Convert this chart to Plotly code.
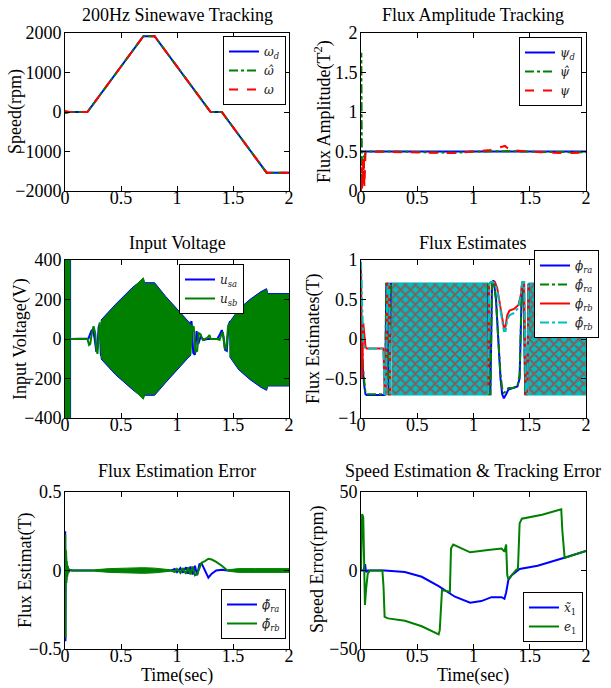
import plotly.graph_objects as go

# ---------------- data ----------------
# Panel 1: speed tracking (rpm)
t_spd = [0, 0.005, 0.01, 0.02, 0.04, 0.2, 0.7, 0.8, 1.3, 1.4, 1.8, 2.0]
w_d = [0, 0, 0, 0, 0, 0, 1920, 1920, 0, 0, -1536, -1536]
w_hat = [0, -40, 30, -20, 0, 0, 1920, 1920, 0, 0, -1536, -1536]
w_act = [40, 20, -10, 10, 0, 0, 1920, 1920, 0, 0, -1536, -1536]

# Panel 2: flux amplitude
t_psi_d = [0, 2.0]
psi_d = [0.5, 0.5]
t_psi_hat = [0, 0.003, 0.006, 0.01, 0.015, 0.02, 0.025, 0.03, 0.04, 0.05, 0.3, 0.6, 0.85, 1.0, 1.3, 1.6, 2.0]
psi_hat = [0.1, 1.75, 0.8, 0.05, 0.3, 0.15, 0.45, 0.4, 0.5, 0.5, 0.5, 0.49, 0.485, 0.5, 0.505, 0.495, 0.49]
t_psi = [0, 0.005, 0.01, 0.015, 0.02, 0.025, 0.03, 0.035, 0.04, 0.05, 0.3, 0.6, 0.85, 1.0, 1.15, 1.28, 1.32, 1.4, 1.6, 1.8, 2.0]
psi = [0.0, 0.3, 0.0, 0.4, 0.15, 0.45, 0.05, 0.2, 0.48, 0.5, 0.49, 0.485, 0.48, 0.5, 0.52, 0.57, 0.52, 0.51, 0.49, 0.48, 0.485]

# Panel 3: input voltage (V)
t_v_start_a = [0.0, 0.05]
v_start_hi_a = [450, 450]
v_start_lo_a = [-450, -450]
t_v_start_b = [0.0, 0.045]
v_start_hi_b = [450, 450]
v_start_lo_b = [-450, -450]

t_usa_1 = [0.05, 0.2, 0.21, 0.235, 0.25, 0.265, 0.28, 0.29, 0.3, 0.31, 0.32, 0.33]
usa_1 = [0, 0, 3, 40, 50, 0, -65, -45, 60, 75, -80, -90]
t_usb_1 = [0.05, 0.2, 0.215, 0.225, 0.24, 0.255, 0.27, 0.28, 0.29, 0.3, 0.31, 0.32, 0.33]
usb_1 = [0, 0, -30, -25, 30, 65, 30, -50, -75, 10, 85, 0, -95]

t_vband_1 = [0.32, 0.45, 0.6, 0.7, 0.71, 0.8, 0.9, 1.0, 1.1, 1.12]
usa_b1_hi = [95, 175, 260, 305, 285, 285, 215, 150, 90, 80]
usa_b1_lo = [-100, -180, -255, -300, -285, -285, -220, -155, -95, -85]
usb_b1_hi = [90, 170, 255, 310, 280, 280, 210, 145, 85, 75]
usb_b1_lo = [-95, -175, -250, -305, -280, -280, -215, -150, -90, -80]

t_usa_2 = [1.12, 1.13, 1.145, 1.16, 1.175, 1.19, 1.21, 1.24, 1.27, 1.3, 1.36, 1.38, 1.4, 1.415, 1.43, 1.445, 1.46, 1.475]
usa_2 = [80, 90, -70, -80, 40, -25, 10, -5, 0, 0, 0, 20, 45, 10, -55, -60, 70, 90]
t_usb_2 = [1.12, 1.135, 1.15, 1.165, 1.18, 1.195, 1.21, 1.23, 1.25, 1.27, 1.29, 1.3, 1.36, 1.38, 1.395, 1.41, 1.425, 1.44, 1.455, 1.47, 1.48]
usb_2 = [-80, 65, 60, -65, -60, 30, 25, -5, 0, 5, 20, 0, 0, -5, 20, 35, -45, -50, 60, 80, -80]

t_vband_2 = [1.47, 1.55, 1.65, 1.75, 1.8, 1.81, 2.0]
usa_b2_hi = [85, 150, 200, 240, 255, 230, 230]
usa_b2_lo = [-90, -155, -205, -245, -260, -238, -238]
usb_b2_hi = [80, 145, 195, 235, 250, 226, 226]
usb_b2_lo = [-85, -150, -200, -240, -255, -234, -234]

# Panel 4: flux estimates (T)
t_fa_1 = [0, 0.01, 0.02, 0.03, 0.04, 0.05, 0.21, 0.215, 0.225, 0.235, 0.245, 0.255, 0.265, 0.275]
phi_ra_1 = [0.0, -0.3, -0.45, -0.6, -0.7, -0.71, -0.71, -0.6, 0.7, 0.7, -0.7, -0.7, 0.7, 0.7]
phi_ra_hat_1 = [0.2, -0.2, -0.4, -0.55, -0.68, -0.7, -0.7, -0.6, 0.7, 0.7, -0.7, -0.7, 0.7, 0.7]
t_fb_1 = [0, 0.01, 0.02, 0.03, 0.04, 0.05, 0.2, 0.21, 0.22, 0.235, 0.25, 0.26, 0.27]
phi_rb_1 = [0.9, -0.5, 0.2, 0.0, -0.1, -0.12, -0.12, -0.7, -0.7, 0.7, 0.7, -0.7, -0.7]
phi_rb_hat_1 = [0.98, 0.3, -0.05, -0.1, -0.12, -0.12, -0.12, -0.7, -0.7, 0.7, 0.7, -0.7, -0.7]

t_fband_1 = [0.27, 1.13]
t_fband_2 = [1.49, 2.0]
f_band_hi = [0.71, 0.71]
f_band_lo = [-0.71, -0.71]

t_fa_2 = [1.13, 1.14, 1.15, 1.165, 1.18, 1.2, 1.22, 1.24, 1.255, 1.27, 1.29, 1.31, 1.35, 1.39, 1.41, 1.43, 1.445, 1.46, 1.475, 1.49]
phi_ra_2 = [0.7, -0.7, -0.7, 0.72, 0.74, 0.5, 0.0, -0.5, -0.7, -0.75, -0.7, -0.64, -0.62, -0.6, -0.5, 0.68, 0.7, -0.7, -0.7, 0.7]
phi_ra_hat_2 = [0.7, -0.7, -0.7, 0.72, 0.72, 0.5, 0.0, -0.45, -0.62, -0.68, -0.66, -0.62, -0.62, -0.6, -0.45, 0.68, 0.7, -0.7, -0.7, 0.7]
t_fb_2 = [1.13, 1.14, 1.155, 1.17, 1.19, 1.21, 1.23, 1.25, 1.27, 1.285, 1.3, 1.32, 1.36, 1.4, 1.42, 1.435, 1.45, 1.465, 1.48, 1.49]
phi_rb_2 = [-0.7, 0.7, 0.72, 0.72, 0.72, 0.65, 0.48, 0.28, 0.14, 0.16, 0.3, 0.36, 0.38, 0.43, 0.55, 0.72, 0.72, -0.7, -0.7, 0.7]
phi_rb_hat_2 = [-0.7, 0.7, 0.72, 0.72, 0.7, 0.62, 0.45, 0.25, 0.1, 0.1, 0.25, 0.3, 0.33, 0.4, 0.55, 0.72, 0.72, -0.7, -0.7, 0.7]

# Panel 5: flux estimation error (T)
t_e_start = [0, 0.002, 0.004, 0.006, 0.008, 0.01, 0.013, 0.016, 0.02, 0.025, 0.03, 0.04, 0.06, 0.25]
ea_start = [0, 0.25, -0.45, 0.1, -0.15, 0.08, -0.06, 0.04, -0.03, 0.02, -0.01, 0.005, 0, 0]
eb_start = [0, 0.23, -0.43, 0.13, -0.2, 0.12, -0.08, 0.06, -0.04, 0.03, -0.015, 0.005, 0, 0]
t_e_mid = [0.95, 0.98, 1.0, 1.03, 1.05, 1.08, 1.1, 1.12, 1.14, 1.16, 1.18, 1.2, 1.22, 1.25, 1.28, 1.31, 1.35, 1.4, 1.45]
ea_mid = [0, 0.01, -0.01, 0.015, -0.015, 0.02, -0.02, 0.025, -0.025, 0.03, -0.03, 0.04, 0.045, 0.0, -0.045, -0.02, 0.0, 0.005, 0]
eb_mid = [0, -0.01, 0.01, -0.015, 0.015, -0.02, 0.02, -0.025, 0.025, -0.03, -0.022, 0.02, 0.05, 0.06, 0.075, 0.07, 0.055, 0.03, 0.0]
t_eband_1 = [0.25, 0.4, 0.55, 0.7, 0.8, 0.9, 0.95]
e_b1_hi = [0.004, 0.012, 0.015, 0.018, 0.015, 0.008, 0.004]
e_b1_lo = [-0.004, -0.012, -0.015, -0.018, -0.015, -0.008, -0.004]
t_eband_2 = [1.45, 1.55, 1.7, 1.85, 2.0]
e_b2_hi = [0.004, 0.012, 0.012, 0.012, 0.012]
e_b2_lo = [-0.004, -0.012, -0.012, -0.012, -0.012]

# Panel 6: speed estimation & tracking error (rpm)
t_x1 = [0, 0.02, 0.03, 0.036, 0.045, 0.06, 0.21, 0.3, 0.39, 0.54, 0.69, 0.835, 0.97, 1.07, 1.16, 1.25,
        1.275, 1.29, 1.31, 1.34, 1.39, 1.41, 1.57, 1.72, 1.8, 2.0]
x1 = [0, 0, 2, 4, -1, 0, 0, -0.3, -1, -4, -10, -16.7, -20.5, -19.5, -17, -17,
      -18, -14, -6, -3, 0, 1, 3, 6, 8, 12.5]
t_e1 = [0, 0.01, 0.02, 0.03, 0.035, 0.045, 0.06, 0.08, 0.19, 0.2, 0.21, 0.24, 0.39, 0.54, 0.69, 0.7,
        0.715, 0.72, 0.79, 0.8, 0.82, 0.97, 1.13, 1.25, 1.275, 1.29, 1.3, 1.31, 1.34, 1.38, 1.395, 1.41,
        1.43, 1.61, 1.78, 1.79, 1.81, 2.0]
e1 = [0, 36, 34, -12, -22, -12, -2, 0, 0, -10, -29.5, -30.5, -32, -35.5, -40.7, -38,
      -14, -12.5, -13.5, 14, 16.5, 11.6, 13, 14, 12, 16.5, -3, -5.5, -3, 0.5, 1, 30,
      33, 35.5, 39, 25, 8, 12.5]

x_ticks = [0, 0.5, 1, 1.5, 2]

# ---------------- styling ----------------
BLUE = "#0000FF"
GREEN = "#008000"
RED = "#FF0000"
CYAN = "#00BFBF"
FONT = "Liberation Serif"
LFONT = "DejaVu Serif"
W, H = 611, 688

fig = go.Figure()


def px_x(p):
    return p / W


def px_y(p):
    return 1 - p / H


col_dom = [[px_x(65), px_x(289)], [px_x(361), px_x(586)]]
row_dom = [[px_y(191), px_y(33)], [px_y(418), px_y(260)], [px_y(649), px_y(492)]]


def line(x, y, ax, color, name=None, dash="solid", legend=None, show=True, width=2):
    fig.add_trace(go.Scatter(
        x=x, y=y, mode="lines", name=name,
        line=dict(color=color, width=width, dash=dash),
        xaxis="x" + ("" if ax == 1 else str(ax)),
        yaxis="y" + ("" if ax == 1 else str(ax)),
        legend=legend, showlegend=show and name is not None,
    ))


def band(t, hi, lo, ax, color, pattern=None):
    xs = list(t) + list(t)[::-1]
    ys = list(hi) + list(lo)[::-1]
    kw = dict(fillcolor=color)
    if pattern:
        kw["fillpattern"] = pattern
    fig.add_trace(go.Scatter(
        x=xs, y=ys, mode="lines", fill="toself",
        line=dict(color=color, width=1),
        xaxis="x" + ("" if ax == 1 else str(ax)),
        yaxis="y" + ("" if ax == 1 else str(ax)),
        showlegend=False, hoverinfo="skip", **kw,
    ))


# Panel 1
line(t_spd, w_d, 1, BLUE, "<i>ω<sub>d</sub></i>", legend="legend")
line(t_spd, w_hat, 1, GREEN, "<i>ω̂</i>", dash="dashdot", legend="legend")
line(t_spd, w_act, 1, RED, "<i>ω</i>", dash="dash", legend="legend")

# Panel 2
line(t_psi_d, psi_d, 2, BLUE, "<i>ψ<sub>d</sub></i>", legend="legend2")
line(t_psi_hat, psi_hat, 2, GREEN, "<i>ψ̂</i>", dash="dashdot", legend="legend2")
line(t_psi, psi, 2, RED, "<i>ψ</i>", dash="dash", legend="legend2")

# Panel 3
band(t_v_start_a, v_start_hi_a, v_start_lo_a, 3, BLUE)
band(t_vband_1, usa_b1_hi, usa_b1_lo, 3, BLUE)
band(t_vband_2, usa_b2_hi, usa_b2_lo, 3, BLUE)
line(t_usa_1, usa_1, 3, BLUE, "<i>u<sub>sa</sub></i>", legend="legend3")
line(t_usa_2, usa_2, 3, BLUE, None)
band(t_v_start_b, v_start_hi_b, v_start_lo_b, 3, GREEN)
band(t_vband_1, usb_b1_hi, usb_b1_lo, 3, GREEN)
band(t_vband_2, usb_b2_hi, usb_b2_lo, 3, GREEN)
line(t_usb_1, usb_1, 3, GREEN, "<i>u<sub>sb</sub></i>", legend="legend3")
line(t_usb_2, usb_2, 3, GREEN, None)

# Panel 4
pat = dict(shape="x", bgcolor=CYAN, fgcolor=RED, size=7, solidity=0.5)
band(t_fband_1, f_band_hi, f_band_lo, 4, CYAN, pattern=pat)
band(t_fband_2, f_band_hi, f_band_lo, 4, CYAN, pattern=pat)
line(t_fa_1, phi_ra_1, 4, BLUE, "<i>ϕ<sub>ra</sub></i>", legend="legend4")
line(t_fa_2, phi_ra_2, 4, BLUE, None)
line(t_fa_1, phi_ra_hat_1, 4, GREEN, "<i>ϕ̂<sub>ra</sub></i>", dash="dashdot", legend="legend4")
line(t_fa_2, phi_ra_hat_2, 4, GREEN, None, dash="dashdot")
line(t_fb_1, phi_rb_1, 4, RED, "<i>ϕ<sub>rb</sub></i>", legend="legend4")
line(t_fb_2, phi_rb_2, 4, RED, None)
line(t_fb_1, phi_rb_hat_1, 4, CYAN, "<i>ϕ̂<sub>rb</sub></i>", dash="dashdot", legend="legend4")
line(t_fb_2, phi_rb_hat_2, 4, CYAN, None, dash="dashdot")

# Panel 5
band(t_eband_1, e_b1_hi, e_b1_lo, 5, GREEN)
band(t_eband_2, e_b2_hi, e_b2_lo, 5, GREEN)
line(t_e_start, ea_start, 5, BLUE, "<i>ϕ̃<sub>ra</sub></i>", legend="legend5")
line(t_e_mid, ea_mid, 5, BLUE, None)
line(t_e_start, eb_start, 5, GREEN, "<i>ϕ̃<sub>rb</sub></i>", legend="legend5")
line(t_e_mid, eb_mid, 5, GREEN, None)

# Panel 6
line(t_x1, x1, 6, BLUE, "<i>x̃</i><sub>1</sub>", legend="legend6")
line(t_e1, e1, 6, GREEN, "<i>e</i><sub>1</sub>", legend="legend6")

# ---------------- axes ----------------
y_ranges = [[-2000, 2000], [0, 2], [-400, 400], [-1, 1], [-0.5, 0.5], [-50, 50]]
y_dticks = [1000, 0.5, 200, 0.5, 0.5, 50]
axis_common = dict(
    showline=True, linecolor="black", linewidth=1, mirror="allticks",
    ticks="inside", ticklen=5, tickcolor="black", showgrid=False, zeroline=False,
    automargin=False,
    tickfont=dict(family=FONT, size=18, color="black"),
)
layout = {}
for i in range(6):
    r, c = divmod(i, 2)
    suffix = "" if i == 0 else str(i + 1)
    layout["xaxis" + suffix] = dict(
        domain=col_dom[c], range=[0, 2], tickvals=x_ticks,
        anchor="y" + suffix, ticklabelstandoff=-10, **axis_common)
    layout["yaxis" + suffix] = dict(
        domain=row_dom[r], range=y_ranges[i], dtick=y_dticks[i],
        anchor="x" + suffix, ticklabelstandoff=-1, **axis_common)

fig.update_layout(**layout)

# legends
leg_common = dict(bordercolor="black", borderwidth=1, bgcolor="white",
                  font=dict(family=LFONT, size=12, color="#222222"),
                  xanchor="right", itemwidth=30, tracegroupgap=0)
fig.update_layout(
    legend=dict(x=px_x(286), y=px_y(36), yanchor="top", **leg_common),
    legend2=dict(x=px_x(582), y=px_y(37), yanchor="top", **leg_common),
    legend3=dict(x=px_x(244), y=px_y(264), yanchor="top", **leg_common),
    legend4=dict(x=px_x(599), y=px_y(250), yanchor="top", **leg_common),
    legend5=dict(x=px_x(286), y=px_y(639), yanchor="bottom", **leg_common),
    legend6=dict(x=px_x(583), y=px_y(642), yanchor="bottom", **leg_common),
)

# titles and axis labels
anns = []
titles = [("200Hz Sinewave Tracking", 177, 15), ("Flux Amplitude Tracking", 473, 15),
          ("Input Voltage", 177, 243), ("Flux Estimates", 473, 243),
          ("Flux Estimation Error", 177, 471), ("Speed Estimation &amp; Tracking Error", 473, 471)]
for txt, x, y in titles:
    anns.append(dict(text=txt, x=px_x(x), y=px_y(y), xref="paper", yref="paper",
                     showarrow=False, xanchor="center", yanchor="middle",
                     font=dict(family=FONT, size=18, color="black")))
ylabels = [("Speed(rpm)", 15, 112), ("Flux Amplitude(T<sup>2</sup>)", 323, 112),
           ("Input Voltage(V)", 20, 339), ("Flux Estimates(T)", 313, 339),
           ("Flux Estimat(T)", 25, 570), ("Speed Error(rpm)", 317, 570)]
for txt, x, y in ylabels:
    anns.append(dict(text=txt, x=px_x(x), y=px_y(y), xref="paper", yref="paper",
                     showarrow=False, xanchor="center", yanchor="middle", textangle=-90,
                     font=dict(family=FONT, size=18, color="black")))
for x in (177, 473):
    anns.append(dict(text="Time(sec)", x=px_x(x), y=px_y(675), xref="paper", yref="paper",
                     showarrow=False, xanchor="center", yanchor="middle",
                     font=dict(family=FONT, size=18, color="black")))

fig.update_layout(
    annotations=anns, width=W, height=H,
    margin=dict(l=0, r=0, t=0, b=0, pad=0, autoexpand=False),
    paper_bgcolor="white", plot_bgcolor="white",
)

fig.write_html("out.html", config={"displayModeBar": False},
               post_script="document.body.style.margin='0';")
